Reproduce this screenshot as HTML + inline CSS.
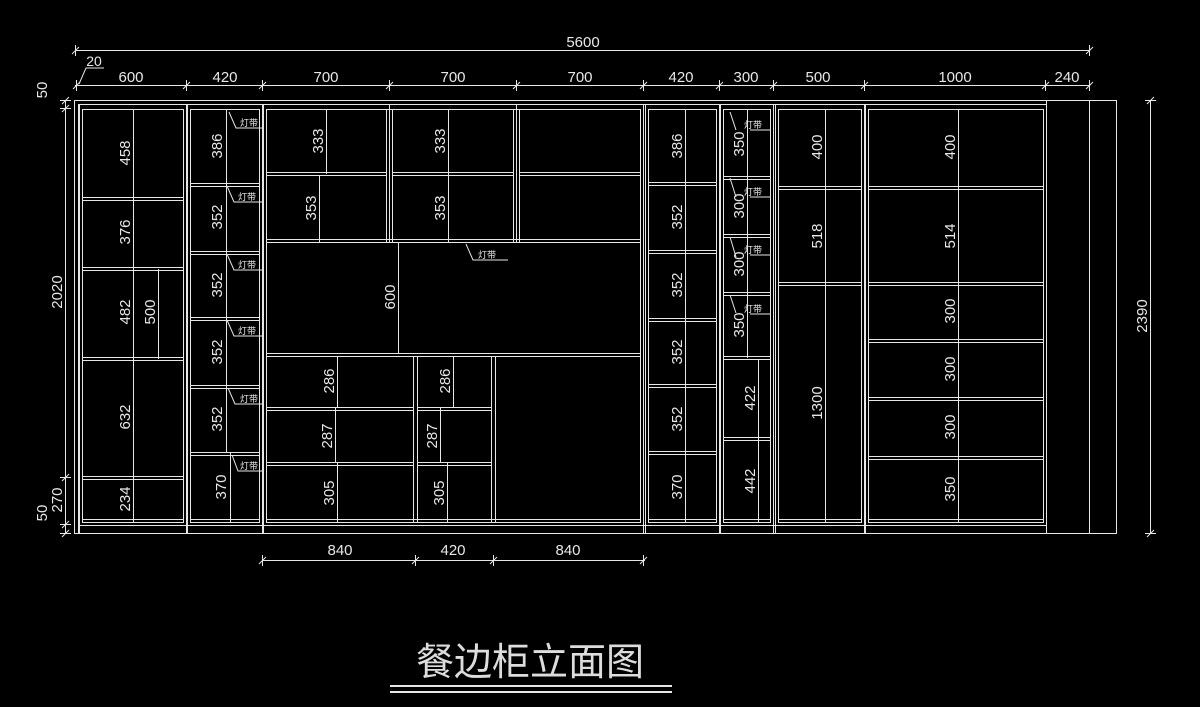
<!DOCTYPE html>
<html><head><meta charset="utf-8"><style>
html,body{margin:0;padding:0;background:#000;width:1200px;height:707px;overflow:hidden}
svg{display:block}
text{font-family:"Liberation Sans","Noto Sans CJK SC",sans-serif;fill:#e8e8e8;font-size:15px}
.s{font-size:9px}
</style></head><body>
<svg width="1200" height="707" viewBox="0 0 1200 707" xmlns="http://www.w3.org/2000/svg">
<g stroke="#e6e6e6" stroke-width="1" fill="none" shape-rendering="crispEdges">
<rect x="74.5" y="100.5" width="1042" height="433"/>
<line x1="78" y1="104.5" x2="1046" y2="104.5"/>
<line x1="78.5" y1="104" x2="78.5" y2="533"/>
<line x1="1046.5" y1="100" x2="1046.5" y2="533"/>
<line x1="1089.5" y1="100" x2="1089.5" y2="533"/>
<line x1="78" y1="525.5" x2="1046" y2="525.5"/>
<rect x="82.5" y="109.5" width="101" height="413"/><rect x="79.5" y="104.5" width="107" height="429"/>
<rect x="190.5" y="109.5" width="69" height="413"/><rect x="187.5" y="104.5" width="75" height="429"/>
<rect x="266.5" y="109.5" width="374" height="413"/><rect x="263.5" y="104.5" width="380" height="429"/>
<rect x="648.5" y="109.5" width="68" height="413"/><rect x="645.5" y="104.5" width="74" height="429"/>
<rect x="723.5" y="109.5" width="47" height="413"/><rect x="720.5" y="104.5" width="53" height="429"/>
<rect x="778.5" y="109.5" width="83" height="413"/><rect x="775.5" y="104.5" width="89" height="429"/>
<rect x="868.5" y="109.5" width="175" height="413"/><rect x="865.5" y="104.5" width="181" height="429"/>
<path d="M82 197.5H183M82 200.5H183M82 267.5H183M82 270.5H183M82 357.5H183M82 360.5H183M82 476.5H183M82 479.5H183M82 519.5H183"/>
<path d="M190 183.5H259M190 186.5H259M190 251.5H259M190 254.5H259M190 317.5H259M190 320.5H259M190 385.5H259M190 388.5H259M190 452.5H259M190 455.5H259M190 519.5H259"/>
<path d="M386.5 109V242M389.5 104V242M392.5 109V242M513.5 109V242M516.5 104V242M519.5 109V242"/>
<path d="M266 172.5H386M266 175.5H386M392 172.5H513M392 175.5H513M519 172.5H640M519 175.5H640"/>
<path d="M266 239.5H640M266 242.5H640M266 353.5H640M266 356.5H640"/>
<path d="M413.5 356V522M417.5 356V522M491.5 356V522M495.5 356V522"/>
<path d="M266 407.5H413M266 410.5H413M266 462.5H413M266 465.5H413M417 407.5H491M417 410.5H491M417 462.5H491M417 465.5H491M266 519.5H640"/>
<path d="M648 182.5H716M648 185.5H716M648 250.5H716M648 253.5H716M648 318.5H716M648 321.5H716M648 384.5H716M648 387.5H716M648 451.5H716M648 454.5H716M648 519.5H716"/>
<path d="M723 176.5H770M723 179.5H770M723 234.5H770M723 237.5H770M723 292.5H770M723 295.5H770M723 356.5H770M723 359.5H770M723 437.5H770M723 440.5H770M723 519.5H770"/>
<path d="M778 186.5H861M778 189.5H861M778 282.5H861M778 285.5H861M778 519.5H861"/>
<path d="M868 186.5H1043M868 189.5H1043M868 282.5H1043M868 285.5H1043M868 339.5H1043M868 342.5H1043M868 397.5H1043M868 400.5H1043M868 456.5H1043M868 459.5H1043M868 519.5H1043"/>
<path d="M133.5 109V522M158.5 269V359M226.5 109V452M230.5 452V522M326.5 109V174M319.5 175V242M448.5 109V242M398.5 242V353M337.5 356V408M335.5 408V463M337.5 463V522M453.5 356V408M440.5 408V463M447.5 463V522M685.5 109V522M747.5 109V358M758.5 359V522M825.5 109V522M958.5 109V522"/>
<path d="M75 50.5H1090M75.5 45V56M1089.5 45V56M75 85.5H1090"/>
<path d="M76.5 80V91M186.5 80V91M262.5 80V91M389.5 80V91M516.5 80V91M643.5 80V91M719.5 80V91M773.5 80V91M864.5 80V91M1045.5 80V91M1089.5 80V91"/>
<path d="M65.5 100V533M60 100.5H71M60 108.5H71M60 477.5H71M60 524.5H71M60 533.5H71"/>
<path d="M1150.5 100V533M1145 100.5H1156M1145 533.5H1156"/>
<path d="M262 560.5H645M262.5 555V566M415.5 555V566M493.5 555V566M643.5 555V566"/>
</g>
<g stroke="#e6e6e6" stroke-width="1" fill="none">
<path d="M72 54L79 47M1086 54L1093 47M73 89L80 82M183 89L190 82M259 89L266 82M386 89L393 82M513 89L520 82M640 89L647 82M716 89L723 82M770 89L777 82M861 89L868 82M1042 89L1049 82M1086 89L1093 82"/>
<path d="M259 564L266 557M412 564L419 557M490 564L497 557M640 564L647 557"/>
<path d="M62 104L69 97M62 112L69 105M62 481L69 474M62 528L69 521M62 537L69 530M1147 104L1154 97M1147 537L1154 530"/>
<path d="M79 84L86 68H104"/>
<path d="M229 112L236 128H262M227 186L234 202H262M227 254L234 270H262M227 320L234 336H262M228 388L235 404H262M232 455L238 471H262"/>
<path d="M466 244L473 260H508"/>
<path d="M730 112L736 130M750 130H770M730 178L736 197M750 197H770M730 237L736 257M750 255H770M730 295L736 313M750 314H770"/>
</g>
<g stroke="#e6e6e6" stroke-width="2" shape-rendering="crispEdges"><line x1="390" y1="686" x2="672" y2="686"/><line x1="390" y1="692" x2="672" y2="692"/></g>
<text x="530" y="675" text-anchor="middle" style="font-size:38px;fill:#ddd">餐边柜立面图</text>
<text x="583" y="47" text-anchor="middle">5600</text>
<text x="94" y="66" text-anchor="middle" style="font-size:14px">20</text>
<g text-anchor="middle">
<text x="131" y="82">600</text><text x="225" y="82">420</text><text x="326" y="82">700</text><text x="453" y="82">700</text><text x="580" y="82">700</text><text x="681" y="82">420</text><text x="746" y="82">300</text><text x="818" y="82">500</text><text x="955" y="82">1000</text><text x="1067" y="82">240</text>
<text x="340" y="555">840</text><text x="453" y="555">420</text><text x="568" y="555">840</text>
</g>
<g text-anchor="middle">
<text transform="translate(47,90) rotate(-90)">50</text>
<text transform="translate(62,292) rotate(-90)">2020</text>
<text transform="translate(62,500) rotate(-90)">270</text>
<text transform="translate(47,513) rotate(-90)">50</text>
<text transform="translate(1147,316) rotate(-90)">2390</text>
<text transform="translate(130,153) rotate(-90)">458</text>
<text transform="translate(130,232) rotate(-90)">376</text>
<text transform="translate(130,312) rotate(-90)">482</text>
<text transform="translate(155,312) rotate(-90)">500</text>
<text transform="translate(130,417) rotate(-90)">632</text>
<text transform="translate(130,499) rotate(-90)">234</text>
<text transform="translate(222,146) rotate(-90)">386</text>
<text transform="translate(222,217) rotate(-90)">352</text>
<text transform="translate(222,285) rotate(-90)">352</text>
<text transform="translate(222,352) rotate(-90)">352</text>
<text transform="translate(222,419) rotate(-90)">352</text>
<text transform="translate(226,487) rotate(-90)">370</text>
<text transform="translate(323,141) rotate(-90)">333</text>
<text transform="translate(316,208) rotate(-90)">353</text>
<text transform="translate(445,141) rotate(-90)">333</text>
<text transform="translate(445,208) rotate(-90)">353</text>
<text transform="translate(395,297) rotate(-90)">600</text>
<text transform="translate(334,381) rotate(-90)">286</text>
<text transform="translate(332,436) rotate(-90)">287</text>
<text transform="translate(334,493) rotate(-90)">305</text>
<text transform="translate(450,381) rotate(-90)">286</text>
<text transform="translate(437,436) rotate(-90)">287</text>
<text transform="translate(444,493) rotate(-90)">305</text>
<text transform="translate(682,146) rotate(-90)">386</text>
<text transform="translate(682,217) rotate(-90)">352</text>
<text transform="translate(682,285) rotate(-90)">352</text>
<text transform="translate(682,352) rotate(-90)">352</text>
<text transform="translate(682,419) rotate(-90)">352</text>
<text transform="translate(682,487) rotate(-90)">370</text>
<text transform="translate(744,144) rotate(-90)">350</text>
<text transform="translate(744,206) rotate(-90)">300</text>
<text transform="translate(744,264) rotate(-90)">300</text>
<text transform="translate(744,325) rotate(-90)">350</text>
<text transform="translate(755,398) rotate(-90)">422</text>
<text transform="translate(755,481) rotate(-90)">442</text>
<text transform="translate(822,147) rotate(-90)">400</text>
<text transform="translate(822,236) rotate(-90)">518</text>
<text transform="translate(822,403) rotate(-90)">1300</text>
<text transform="translate(955,147) rotate(-90)">400</text>
<text transform="translate(955,236) rotate(-90)">514</text>
<text transform="translate(955,311) rotate(-90)">300</text>
<text transform="translate(955,369) rotate(-90)">300</text>
<text transform="translate(955,427) rotate(-90)">300</text>
<text transform="translate(955,489) rotate(-90)">350</text>
</g>
<text class="s" x="240" y="126">灯带</text><text class="s" x="238" y="200">灯带</text><text class="s" x="238" y="268">灯带</text><text class="s" x="238" y="334">灯带</text><text class="s" x="240" y="402">灯带</text><text class="s" x="240" y="469">灯带</text>
<text class="s" x="478" y="258">灯带</text>
<text class="s" x="744" y="128">灯带</text><text class="s" x="744" y="195">灯带</text><text class="s" x="744" y="253">灯带</text><text class="s" x="744" y="312">灯带</text>
</svg>
</body></html>
